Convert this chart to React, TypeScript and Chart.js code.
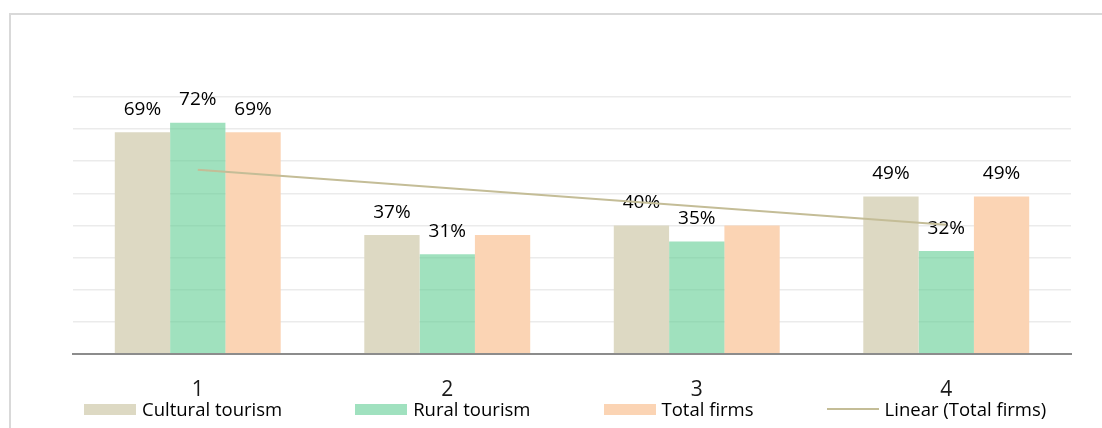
import React, { useEffect, useRef } from "react";
import { Chart, registerables } from "chart.js";

Chart.register(...registerables);

const categories = ["1", "2", "3", "4"];
const culturalTourism = [69, 37, 40, 49];
const ruralTourism = [72, 31, 35, 32];
const totalFirms = [69, 37, 40, 49];
// Which data labels are shown for each bar series (the reference omits some)
const culturalLabelsShown = [true, true, true, true];
const ruralLabelsShown = [true, true, true, true];
const totalLabelsShown = [true, false, false, true];
// Linear trendline of Total firms, read at first and last category
const trendTotalFirms: (number | null)[] = [57.3, null, null, 40.2];
const seriesNames = ["Cultural tourism", "Rural tourism", "Total firms", "Linear (Total firms)"];
const yMin = 0;
const yMax = 80;
const yStep = 10;

const COLORS = {
  cultural: "#DDD9C3",
  rural: "rgba(97,205,147,0.6)",
  ruralLegend: "#A0E1BF",
  total: "#FBD4B4",
  trend: "#C4BD97",
  grid: "#EBEBEB",
  axis: "#8C8C8C",
  frame: "#D9D9D9",
};
const FONT = '"Open Sans", sans-serif';

const barLabels = {
  id: "barLabels",
  beforeDatasetsDraw(chart: any) {
    const ctx = chart.ctx;
    ctx.save();
    ctx.font = `19px ${FONT}`;
    ctx.fillStyle = "#000";
    ctx.textAlign = "center";
    ctx.textBaseline = "alphabetic";
    chart.data.datasets.forEach((ds: any, i: number) => {
      if (ds.type === "line") return;
      const shown: boolean[] = ds.labelsShown || [];
      const meta = chart.getDatasetMeta(i);
      meta.data.forEach((el: any, j: number) => {
        if (!shown[j]) return;
        ctx.fillText(`${ds.data[j]}%`, el.x, el.y - 17.5);
      });
    });
    ctx.restore();
  },
};

export default function App() {
  const canvasRef = useRef<HTMLCanvasElement | null>(null);

  useEffect(() => {
    if (!canvasRef.current) return;
    const chart = new Chart(canvasRef.current, {
      type: "bar",
      data: {
        labels: categories,
        datasets: [
          {
            type: "bar",
            label: seriesNames[0],
            data: culturalTourism,
            labelsShown: culturalLabelsShown,
            backgroundColor: COLORS.cultural,
            categoryPercentage: 0.665,
            barPercentage: 1,
            order: 1,
          } as any,
          {
            type: "bar",
            label: seriesNames[1],
            data: ruralTourism,
            labelsShown: ruralLabelsShown,
            backgroundColor: COLORS.rural,
            categoryPercentage: 0.665,
            barPercentage: 1,
            order: 1,
          } as any,
          {
            type: "bar",
            label: seriesNames[2],
            data: totalFirms,
            labelsShown: totalLabelsShown,
            backgroundColor: COLORS.total,
            categoryPercentage: 0.665,
            barPercentage: 1,
            order: 1,
          } as any,
          {
            type: "line",
            label: seriesNames[3],
            data: trendTotalFirms,
            borderColor: COLORS.trend,
            borderWidth: 2,
            pointRadius: 0,
            spanGaps: true,
            fill: false,
            order: 0,
          } as any,
        ],
      },
      options: {
        animation: false,
        responsive: true,
        maintainAspectRatio: false,
        layout: { padding: { left: 73, right: 31, top: 97, bottom: 1 } },
        plugins: {
          legend: { display: false },
          tooltip: { enabled: false },
        },
        scales: {
          x: {
            grid: { display: false, drawTicks: false },
            border: { display: true, color: COLORS.axis, width: 2 },
            ticks: {
              font: { family: FONT, size: 21 },
              color: "#1a1a1a",
              padding: 24,
            },
          },
          y: {
            min: yMin,
            max: yMax,
            ticks: { display: false, stepSize: yStep },
            grid: { color: COLORS.grid, lineWidth: 1.5, drawTicks: false },
            border: { display: false },
          },
        },
      },
      plugins: [barLabels],
    });
    return () => chart.destroy();
  }, []);

  const legendItems = [
    { name: seriesNames[0], color: COLORS.cultural, line: false },
    { name: seriesNames[1], color: COLORS.ruralLegend, line: false },
    { name: seriesNames[2], color: COLORS.total, line: false },
    { name: seriesNames[3], color: COLORS.trend, line: true },
  ];

  return (
    <div style={{ position: "absolute", left: 0, top: 0, width: 1102, height: 428, background: "#fff", overflow: "hidden" }}>
      <div
        style={{
          position: "absolute",
          left: 9,
          top: 13,
          right: 0,
          bottom: 0,
          borderTop: `2px solid ${COLORS.frame}`,
          borderLeft: `2px solid ${COLORS.frame}`,
        }}
      />
      <div style={{ position: "absolute", left: 0, top: 0, width: 1102, height: 428 }}>
        <canvas ref={canvasRef} />
      </div>
      <div
        style={{
          position: "absolute",
          left: 84,
          top: 399,
          display: "flex",
          alignItems: "center",
          gap: 73,
          fontFamily: FONT,
          fontSize: 18.5,
          lineHeight: "20px",
          color: "#000",
          whiteSpace: "nowrap",
        }}
      >
        {legendItems.map((it) => (
          <div key={it.name} style={{ display: "flex", alignItems: "center", gap: 6 }}>
            <span
              style={{
                display: "inline-block",
                width: 52,
                height: it.line ? 2 : 11,
                background: it.color,
              }}
            />
            <span>{it.name}</span>
          </div>
        ))}
      </div>
    </div>
  );
}
